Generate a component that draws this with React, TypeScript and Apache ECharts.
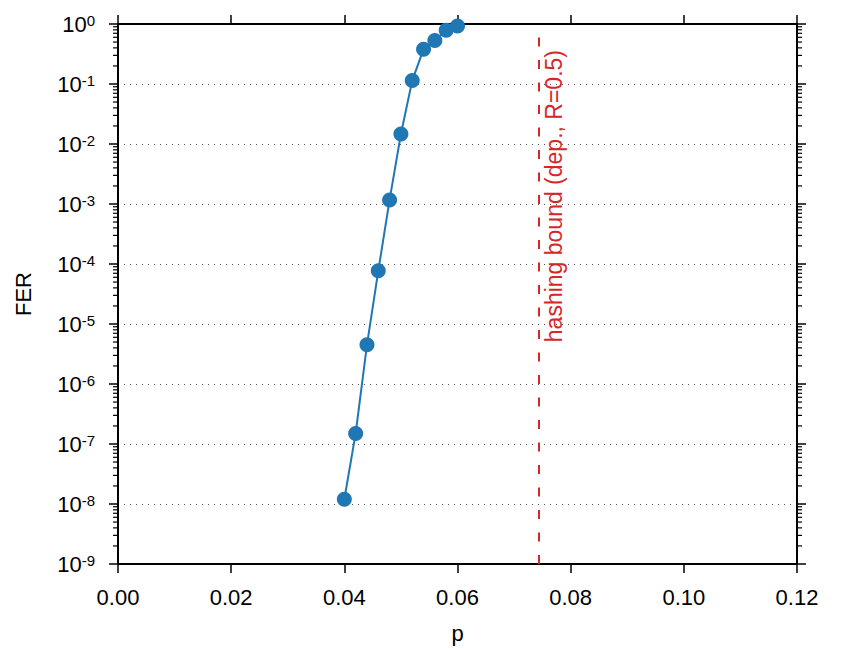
import React, { useEffect, useRef } from "react";
import * as echarts from "echarts";

const pValues = [0.04, 0.042, 0.044, 0.046, 0.048, 0.05, 0.052, 0.054, 0.056, 0.058, 0.06];
const ferValues = [1.2e-8, 1.5e-7, 4.5e-6, 7.7e-5, 1.17e-3, 1.47e-2, 0.114, 0.38, 0.53, 0.79, 0.93];
const boundP = 0.0744;
const boundLabel = "hashing bound (dep., R=0.5)";
const xMin = 0;
const xMax = 0.12;
const xStep = 0.02;
const yMinExp = -9;
const yMaxExp = 0;
const minorMultipliers = [2, 3, 4, 5, 6, 7, 8, 9];

const FONT = "Liberation Sans, Arial, Helvetica, sans-serif";
const BLUE = "#1f77b4";
const RED = "#d62728";

export default function App() {
  const ref = useRef<HTMLDivElement>(null);
  useEffect(() => {
    if (!ref.current) return;
    const chart = echarts.init(ref.current, null, { renderer: "svg" });

    const minorVals: number[][] = [];
    for (let e = yMinExp; e < yMaxExp; e++) {
      for (const k of minorMultipliers) minorVals.push([xMin, k * Math.pow(10, e)]);
    }

    const supLabel = (v: number) => {
      const ex = Math.round(Math.log10(v));
      return `{b|10}{s|${ex}}`;
    };
    const rich = {
      b: { fontSize: 22, fontFamily: FONT, color: "#000", lineHeight: 22 },
      s: { fontSize: 15, fontFamily: FONT, color: "#000", lineHeight: 14, verticalAlign: "top" },
    };

    const axisLineStyle = { color: "#000", width: 2 };
    const tickStyle = { color: "#000", width: 1.5 };

    chart.setOption({
      animation: false,
      backgroundColor: "#fff",
      textStyle: { fontFamily: FONT },
      grid: { left: 118, right: 50, top: 24, bottom: 85, containLabel: false },
      xAxis: [
        {
          type: "value",
          min: xMin,
          max: xMax,
          interval: xStep,
          position: "bottom",
          name: "p",
          nameLocation: "middle",
          nameGap: 58,
          nameTextStyle: { fontSize: 22, fontFamily: FONT, color: "#000" },
          axisLine: { show: true, onZero: false, lineStyle: axisLineStyle },
          axisTick: { show: true, inside: false, length: 9, lineStyle: tickStyle },
          axisLabel: {
            fontSize: 22,
            fontFamily: FONT,
            color: "#000",
            margin: 22,
            formatter: (v: number) => v.toFixed(2),
          },
          splitLine: { show: false },
        },
        {
          type: "value",
          min: xMin,
          max: xMax,
          interval: xStep,
          position: "top",
          axisLine: { show: true, onZero: false, lineStyle: axisLineStyle },
          axisTick: { show: true, inside: false, length: 9, lineStyle: tickStyle },
          axisLabel: { show: false },
          splitLine: { show: false },
        },
      ],
      yAxis: [
        {
          type: "log",
          logBase: 10,
          min: Math.pow(10, yMinExp),
          max: Math.pow(10, yMaxExp),
          interval: 1,
          splitNumber: 9,
          position: "left",
          name: "FER",
          nameLocation: "middle",
          nameGap: 84,
          nameRotate: 90,
          nameTextStyle: { fontSize: 22, fontFamily: FONT, color: "#000" },
          axisLine: { show: true, onZero: false, lineStyle: axisLineStyle },
          axisTick: { show: true, inside: false, length: 9, lineStyle: tickStyle },
          axisLabel: { margin: 23, formatter: supLabel, rich },
          splitLine: { show: true, lineStyle: { color: "#555", width: 1, type: [1, 5] } },
        },
        {
          type: "log",
          logBase: 10,
          min: Math.pow(10, yMinExp),
          max: Math.pow(10, yMaxExp),
          interval: 1,
          splitNumber: 9,
          position: "right",
          axisLine: { show: true, onZero: false, lineStyle: axisLineStyle },
          axisTick: { show: true, inside: false, length: 9, lineStyle: tickStyle },
          axisLabel: { show: false },
          splitLine: { show: false },
        },
      ],
      series: [
        {
          type: "custom",
          xAxisIndex: 0,
          yAxisIndex: 0,
          silent: true,
          clip: false,
          z: 1,
          data: minorVals,
          renderItem: (params: any, api: any) => {
            const cs = params.coordSys;
            const y = api.coord([api.value(0), api.value(1)])[1];
            const style = { stroke: "#000", lineWidth: 1.2 };
            return {
              type: "group",
              children: [
                { type: "line", shape: { x1: cs.x - 5, y1: y, x2: cs.x, y2: y }, style },
                { type: "line", shape: { x1: cs.x + cs.width, y1: y, x2: cs.x + cs.width + 5, y2: y }, style },
              ],
            };
          },
        },
        {
          type: "line",
          xAxisIndex: 0,
          yAxisIndex: 0,
          data: pValues.map((p, i) => [p, ferValues[i]]),
          symbol: "circle",
          symbolSize: 15,
          lineStyle: { color: BLUE, width: 2 },
          itemStyle: { color: BLUE },
          z: 5,
          markLine: {
            silent: true,
            precision: 5,
            symbol: ["none", "none"],
            animation: false,
            lineStyle: { color: RED, width: 2, type: [9, 13.5] },
            label: {
              show: true,
              position: "insideEndBottom",
              distance: [26, 3.5],
              formatter: boundLabel,
              color: RED,
              fontSize: 23,
              fontFamily: FONT,
            },
            data: [{ xAxis: boundP }],
          },
        },
      ],
    });
    return () => chart.dispose();
  }, []);
  return (
    <div
      ref={ref}
      style={{ position: "fixed", left: 0, top: 0, width: 847, height: 649, background: "#fff" }}
    />
  );
}
